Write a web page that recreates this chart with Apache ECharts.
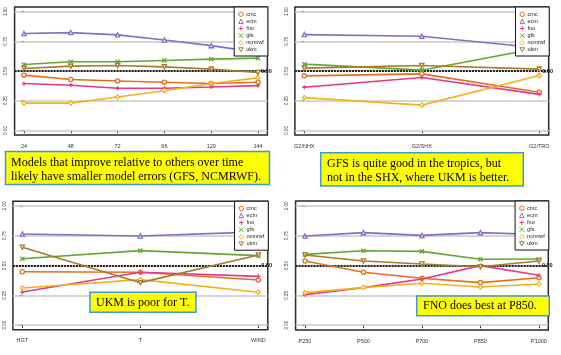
<!DOCTYPE html>
<html>
<head>
<meta charset="utf-8">
<script src="https://cdn.jsdelivr.net/npm/echarts@6/dist/echarts.min.js"></script>
<style>
  html, body { margin: 0; padding: 0; background: #fff; }
  #chart { width: 561px; height: 355px; }
</style>
</head>
<body>
<div id="chart"></div>
<script>
// models and their colours / plot symbols
const models = ['cmc', 'ecm', 'fno', 'gfs', 'ncmrwf', 'ukm'];
const colors = ['#e4701f', '#7a73c9', '#e8368c', '#62a830', '#f1b31c', '#a87a2b'];
const symbols = ['circle', 'triangle', 'path://M5,0L5,10M0,5L10,5', 'path://M0,0L10,10M10,0L0,10', 'diamond', 'path://M0,0L10,0L5,9Z'];

// panel 1: lead time
const leadCats = ['24', '48', '72', '96', '120', '144'];
const leadCmc = [0.465, 0.428, 0.416, 0.405, 0.394, 0.405];
const leadEcm = [0.816, 0.824, 0.805, 0.762, 0.714, 0.657];
const leadFno = [0.394, 0.380, 0.354, 0.354, 0.365, 0.377];
const leadGfs = [0.555, 0.578, 0.578, 0.589, 0.600, 0.609];
const leadNcmrwf = [0.229, 0.229, 0.280, 0.334, 0.394, 0.442];
const leadUkm = [0.521, 0.541, 0.547, 0.535, 0.516, 0.487];

// panel 2: region
const regionCats = ['G2/NHX', 'G2/SHX', 'G2/TRO'];
const regionCmc = [0.459, 0.476, 0.320];
const regionEcm = [0.807, 0.793, 0.694];
const regionFno = [0.363, 0.445, 0.303];
const regionGfs = [0.558, 0.507, 0.694];
const regionNcmrwf = [0.275, 0.212, 0.462];
const regionUkm = [0.524, 0.547, 0.516];

// panel 3: variable
const varCats = ['HGT', 'T', 'WIND'];
const varCmc = [0.448, 0.443, 0.378];
const varEcm = [0.765, 0.748, 0.782];
const varFno = [0.277, 0.443, 0.409];
const varGfs = [0.557, 0.625, 0.583];
const varNcmrwf = [0.311, 0.381, 0.275];
const varUkm = [0.653, 0.356, 0.588];

// panel 4: pressure level
const levelCats = ['P250', 'P500', 'P700', 'P850', 'P1000'];
const levelCmc = [0.538, 0.443, 0.393, 0.357, 0.398];
const levelEcm = [0.747, 0.775, 0.752, 0.775, 0.759];
const levelFno = [0.256, 0.315, 0.387, 0.499, 0.418];
const levelGfs = [0.593, 0.624, 0.618, 0.552, 0.554];
const levelNcmrwf = [0.273, 0.315, 0.351, 0.320, 0.345];
const levelUkm = [0.588, 0.538, 0.512, 0.490, 0.538];

const yTicks = [0, 0.25, 0.5, 0.75, 1];
const refLevel = 0.5;
const refLabel = '0.50';

const panels = [
  { cats: leadCats, values: [leadCmc, leadEcm, leadFno, leadGfs, leadNcmrwf, leadUkm],
    grid: { left: 14.6, top: 7, width: 252.8, height: 128 } },
  { cats: regionCats, values: [regionCmc, regionEcm, regionFno, regionGfs, regionNcmrwf, regionUkm],
    grid: { left: 294.9, top: 7, width: 253.8, height: 128 } },
  { cats: varCats, values: [varCmc, varEcm, varFno, varGfs, varNcmrwf, varUkm],
    grid: { left: 12.9, top: 201.2, width: 254.9, height: 128.6 } },
  { cats: levelCats, values: [levelCmc, levelEcm, levelFno, levelGfs, levelNcmrwf, levelUkm],
    grid: { left: 295.6, top: 201, width: 252.7, height: 129 } }
];

const notes = [
  { box: [5.5, 151.5, 264, 33], x: 11, y: 169.5, text: 'Models that improve relative to others over time\nlikely have smaller model errors (GFS, NCMRWF).' },
  { box: [320.7, 152.7, 202.6, 33.3], x: 327, y: 171, text: 'GFS is quite good in the tropics, but\nnot in the SHX, where UKM is better.' },
  { box: [90, 292.3, 106, 20], x: 96, y: 302.5, text: 'UKM is poor for T.' },
  { box: [416.7, 296, 132.6, 19.7], x: 423, y: 306.2, text: 'FNO does best at P850.' }
];

const axisText = { color: '#333', fontFamily: 'Liberation Sans' };

const grids = [], xAxes = [], yAxes = [], legends = [], series = [];

panels.forEach((p, gi) => {
  const n = p.cats.length;
  const pad = 0.04 * (n - 1);
  const idx = p.cats.map((_, i) => i);
  grids.push(Object.assign({
    show: true, borderColor: '#2a2a2a', borderWidth: 1.5,
    backgroundColor: 'transparent', containLabel: false, outerBoundsMode: 'none'
  }, p.grid));
  xAxes.push({
    type: 'value', gridIndex: gi, min: -pad, max: n - 1 + pad,
    axisLine: { show: false }, splitLine: { show: false },
    axisTick: { show: true, length: 3, customValues: idx, lineStyle: { color: '#333', width: 1 } },
    axisLabel: Object.assign({ customValues: idx, fontSize: 5.5, margin: 8,
      formatter: v => p.cats[Math.round(v)] }, axisText)
  });
  yAxes.push({
    type: 'value', gridIndex: gi, min: -0.04, max: 1.04,
    axisLine: { show: false }, splitLine: { show: false },
    axisTick: { show: true, length: 3, customValues: yTicks, lineStyle: { color: '#333', width: 1 } },
    axisLabel: Object.assign({ customValues: yTicks, fontSize: 4.5, rotate: 90, margin: 6,
      formatter: v => v.toFixed(2) }, axisText)
  });
  const g = p.grid;
  legends.push({
    orient: 'vertical', right: 561 - (g.left + g.width) - 0.5, top: g.top,
    data: models.map((m, i) => ({ name: m, icon: symbols[i] })),
    itemWidth: 4.5, itemHeight: 4.5, itemGap: 0.6,
    padding: [4, 4, 3, 4],
    backgroundColor: '#fff', borderColor: '#111', borderWidth: 1, borderRadius: 0,
    lineStyle: { opacity: 0 },
    itemStyle: { borderWidth: 1 },
    selectedMode: false,
    textStyle: { fontSize: 5.5, lineHeight: 6.5, color: '#222', fontFamily: 'Liberation Sans', padding: [0, 0, 0, -2] }
  });
  models.forEach((m, si) => {
    const s = {
      name: m, type: 'line', xAxisIndex: gi, yAxisIndex: gi,
      data: p.values[si].map((v, i) => [i, v]),
      symbol: symbols[si], symbolSize: 4.2,
      lineStyle: { color: colors[si], width: 1.6 },
      itemStyle: { color: '#fff', borderColor: colors[si], borderWidth: 1.3 },
      silent: true, animation: false, z: 2
    };
    if (si === 0) {
      s.markLine = {
        silent: true, symbol: 'none', z: 1, animation: false,
        label: { show: false },
        data: yTicks.map(v => ({ yAxis: v, lineStyle: { color: '#c9c9c9', width: 1.5, type: 'solid' } }))
          .concat([{ yAxis: refLevel, lineStyle: { color: '#1e1e1e', width: 2, type: [2, 1] } }])
      };
      s.markPoint = {
        silent: true, symbol: 'circle', symbolSize: 0, animation: false,
        data: [{ coord: [n - 1, refLevel] }],
        label: { show: true, position: 'right', distance: 3, formatter: refLabel,
          fontSize: 5.5, fontWeight: 'bold', color: '#111', fontFamily: 'Liberation Sans' }
      };
    }
    series.push(s);
  });
});

const graphic = [];
notes.forEach(nt => {
  graphic.push({
    type: 'rect', shape: { x: nt.box[0], y: nt.box[1], width: nt.box[2], height: nt.box[3] },
    style: { fill: '#ffff00', stroke: '#3f98d2', lineWidth: 1.5 }, z: 10
  });
  graphic.push({
    type: 'text', x: nt.x, y: nt.y, z: 11,
    style: { text: nt.text, fill: '#000', fontSize: 12, fontFamily: 'Liberation Serif',
      lineHeight: 14, align: 'left', verticalAlign: 'middle' }
  });
});

const chart = echarts.init(document.getElementById('chart'), null, { renderer: 'canvas' });
chart.setOption({
  animation: false,
  backgroundColor: '#fff',
  grid: grids,
  xAxis: xAxes,
  yAxis: yAxes,
  legend: legends,
  series: series,
  graphic: graphic
});
</script>
</body>
</html>
